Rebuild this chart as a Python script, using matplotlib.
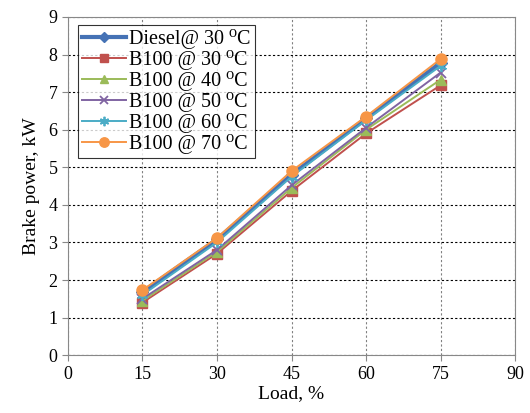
import numpy as np
import matplotlib.pyplot as plt

load = [15, 30, 45, 60, 75]
diesel_30 = [1.68, 3.08, 4.8, 6.3, 7.78]
b100_30 = [1.4, 2.7, 4.37, 5.9, 7.18]
b100_40 = [1.45, 2.75, 4.45, 6.0, 7.33]
b100_50 = [1.5, 2.8, 4.52, 6.05, 7.52]
b100_60 = [1.6, 3.0, 4.75, 6.25, 7.7]
b100_70 = [1.73, 3.12, 4.9, 6.35, 7.88]

labels = ['Diesel@ 30 \u2070C', 'B100 @ 30 \u2070C', 'B100 @ 40 \u2070C',
          'B100 @ 50 \u2070C', 'B100 @ 60 \u2070C', 'B100 @ 70 \u2070C']

plt.rcParams['font.family'] = ['Liberation Serif', 'DejaVu Serif']

fig = plt.figure(figsize=(5.3, 4.13), dpi=100)
ax = fig.add_axes([0.128, 0.14, 0.844, 0.819])

ax.plot(load, diesel_30, color='#4572B5', lw=3, marker='D', ms=6, label=labels[0])
ax.plot(load, b100_30, color='#C0504D', lw=1.4, marker='s', ms=7, label=labels[1])
ax.plot(load, b100_40, color='#9BBB59', lw=1.4, marker='^', ms=7, label=labels[2])
ax.plot(load, b100_50, color='#8064A2', lw=1.4, marker='x', ms=7, mew=1.3, label=labels[3])
ax.plot(load, b100_60, color='#4BACC6', lw=1.4, marker=(6, 2, 0), ms=8, mew=1.3, label=labels[4])
ax.plot(load, b100_70, color='#F79646', lw=1.4, marker='o', ms=8, label=labels[5])

ax.set_xlim(0, 90)
ax.set_ylim(0, 9)
ax.set_xticks(np.arange(0, 91, 15))
ax.set_yticks(np.arange(0, 10, 1))
ax.grid(axis='y', color='black', ls=(0, (2, 2)), lw=0.8)
ax.grid(axis='x', color='gray', ls=(0, (2, 2)), lw=0.8)
ax.set_axisbelow(True)
for s in ax.spines.values():
    s.set_color('#888888')
ax.tick_params(labelsize=13, length=4, color='#888888')
ax.set_xlabel('Load, %', fontsize=14, labelpad=2)
ax.set_ylabel('Brake power, kW', fontsize=14, labelpad=6)

leg = ax.legend(loc='upper left', bbox_to_anchor=(0.022, 0.976), fontsize=14.5,
                frameon=True, fancybox=False, edgecolor='black',
                handlelength=2.2, handletextpad=0.15, labelspacing=0.05,
                borderpad=0.2, borderaxespad=0, markerscale=0.85)
leg.get_frame().set_linewidth(0.8)

fig.savefig('out.png', dpi=100)
